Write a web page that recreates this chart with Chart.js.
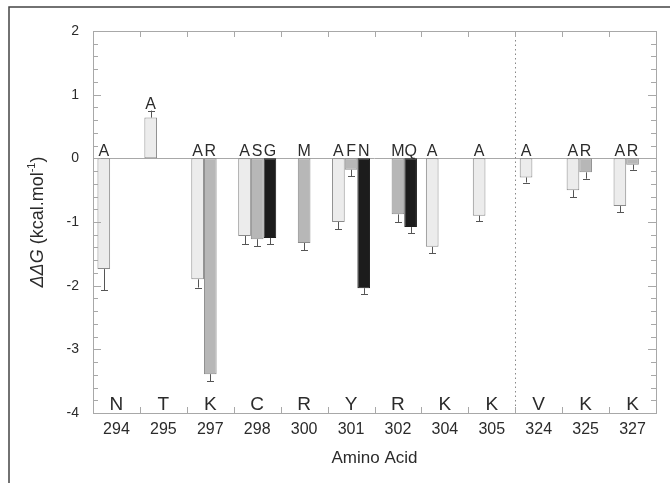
<!DOCTYPE html>
<html>
<head>
<meta charset="utf-8">
<script src="https://cdn.jsdelivr.net/npm/chart.js@4"></script>
<style>
  html, body { margin: 0; padding: 0; background: #fff; }
  canvas { display: block; }
</style>
</head>
<body>
<canvas id="ddgChart" width="670" height="483"></canvas>
<script>
// residue numbers and wild-type residues
const residues = ['294', '295', '297', '298', '300', '301', '302', '304', '305', '324', '325', '327'];
const wildType = ['N', 'T', 'K', 'C', 'R', 'Y', 'R', 'K', 'K', 'V', 'K', 'K'];

// first mutant (light bars)
const mutA = [-1.74, 0.64, -1.90, -1.22, null, -1.00, null, -1.39, -0.90, -0.30, -0.50, -0.75];
const mutAErr = [0.33, 0.11, 0.13, 0.13, null, 0.11, null, 0.10, 0.09, 0.08, 0.11, 0.10];
const mutALabels = ['A', 'A', 'A', 'A', '', 'A', '', 'A', 'A', 'A', 'A', 'A'];

// second mutant (grey bars)
const mutB = [null, null, -3.39, -1.27, -1.33, -0.18, -0.88, null, null, null, -0.22, -0.10];
const mutBErr = [null, null, 0.11, 0.11, 0.11, 0.10, 0.12, null, null, null, 0.10, 0.08];
const mutBLabels = ['', '', 'R', 'S', 'M', 'F', 'M', '', '', '', 'R', 'R'];

// third mutant (black bars)
const mutC = [null, null, null, -1.25, null, -2.04, -1.08, null, null, null, null, null];
const mutCErr = [null, null, null, 0.10, null, 0.09, 0.10, null, null, null, null, null];
const mutCLabels = ['', '', '', 'G', '', 'N', 'Q', '', '', '', '', ''];

const yMin = -4, yMax = 2;
const separatorAfter = 8; // dotted line after residue 305

const errors = [mutAErr, mutBErr, mutCErr];
const mutLabels = [mutALabels, mutBLabels, mutCLabels];

const textColor = '#2b2b2b';
const axisColor = '#a8a8a8';
const FONT = '"Liberation Sans", Arial, Helvetica, sans-serif';

const decorPlugin = {
    id: 'decor',
    beforeDraw(chart) {
        const ctx = chart.ctx;
        ctx.save();
        // outer frame (top and left only)
        ctx.strokeStyle = '#444';
        ctx.lineWidth = 1.5;
        ctx.beginPath();
        ctx.moveTo(9, chart.height);
        ctx.lineTo(9, 7);
        ctx.lineTo(chart.width, 7);
        ctx.stroke();
        ctx.restore();
    },
    beforeDatasetsDraw(chart) {
        const { ctx, chartArea: a, scales: { x, y } } = chart;
        ctx.save();
        ctx.strokeStyle = axisColor;
        ctx.lineWidth = 1;
        // zero line
        const y0 = Math.round(y.getPixelForValue(0)) + 0.5;
        ctx.beginPath();
        ctx.moveTo(a.left, y0);
        ctx.lineTo(a.right, y0);
        ctx.stroke();
        // dotted separator
        const xs = Math.round((x.getPixelForValue(separatorAfter) + x.getPixelForValue(separatorAfter + 1)) / 2) + 0.5;
        ctx.setLineDash([1.5, 3]);
        ctx.strokeStyle = '#888';
        ctx.beginPath();
        ctx.moveTo(xs, a.top);
        ctx.lineTo(xs, a.bottom);
        ctx.stroke();
        ctx.restore();
    },
    afterDatasetsDraw(chart) {
        const { ctx, chartArea: a, scales: { x, y } } = chart;
        ctx.save();

        // error bars
        ctx.strokeStyle = '#555';
        ctx.lineWidth = 1;
        chart.data.datasets.forEach((ds, d) => {
            const meta = chart.getDatasetMeta(d);
            ds.data.forEach((v, i) => {
                if (v === null) return;
                const bar = meta.data[i];
                const err = errors[d][i];
                const yEnd = y.getPixelForValue(v);
                const yErr = y.getPixelForValue(v < 0 ? v - err : v + err);
                const cx = Math.round(bar.x) + 0.5;
                ctx.beginPath();
                ctx.moveTo(cx, yEnd);
                ctx.lineTo(cx, yErr);
                ctx.moveTo(cx - 3.5, Math.round(yErr) + 0.5);
                ctx.lineTo(cx + 3.5, Math.round(yErr) + 0.5);
                ctx.stroke();
            });
        });

        // mutation letters above the bars
        ctx.fillStyle = textColor;
        ctx.font = '16px ' + FONT;
        ctx.textAlign = 'center';
        ctx.textBaseline = 'alphabetic';
        chart.data.datasets.forEach((ds, d) => {
            const meta = chart.getDatasetMeta(d);
            ds.data.forEach((v, i) => {
                const lbl = mutLabels[d][i];
                if (!lbl) return;
                const bar = meta.data[i];
                let base = y.getPixelForValue(0) - 2;
                if (v > 0) base = y.getPixelForValue(v + errors[d][i]) - 2;
                ctx.fillText(lbl, bar.x, base);
            });
        });

        // wild-type residues along the bottom
        ctx.font = '19px ' + FONT;
        residues.forEach((r, i) => {
            ctx.fillText(wildType[i], x.getPixelForValue(i), a.bottom - 3);
        });

        // plot frame
        ctx.strokeStyle = axisColor;
        ctx.lineWidth = 1;
        ctx.strokeRect(Math.round(a.left) + 0.5, Math.round(a.top) + 0.5,
            Math.round(a.right - a.left), Math.round(a.bottom - a.top));

        // inward ticks on the y axes
        for (let k = 0; k <= (yMax - yMin) * 5; k++) {
            const v = yMin + k * 0.2;
            const py = Math.round(y.getPixelForValue(v)) + 0.5;
            const major = k % 5 === 0;
            const len = major ? 8 : 5;
            ctx.beginPath();
            ctx.moveTo(a.left, py);
            ctx.lineTo(a.left + len, py);
            ctx.moveTo(a.right, py);
            ctx.lineTo(a.right - len, py);
            ctx.stroke();
        }
        // inward ticks between categories
        for (let i = 1; i < residues.length; i++) {
            const px = Math.round((x.getPixelForValue(i - 1) + x.getPixelForValue(i)) / 2) + 0.5;
            ctx.beginPath();
            ctx.moveTo(px, a.top);
            ctx.lineTo(px, a.top + 6);
            ctx.moveTo(px, a.bottom);
            ctx.lineTo(px, a.bottom - 6);
            ctx.stroke();
        }

        // y-axis title: ΔΔG (kcal.mol-1)
        ctx.translate(38, (a.top + a.bottom) / 2);
        ctx.rotate(-Math.PI / 2);
        ctx.textBaseline = 'middle';
        ctx.textAlign = 'left';
        const parts = [
            { t: '\u0394\u0394', f: 'italic 18px ' + FONT, dy: 0 },
            { t: 'G', f: 'italic 18px ' + FONT, dy: 0 },
            { t: ' (kcal.mol', f: '18px ' + FONT, dy: 0 },
            { t: '-1', f: '11px ' + FONT, dy: -6 },
            { t: ')', f: '18px ' + FONT, dy: 0 }
        ];
        let total = 0;
        parts.forEach(p => { ctx.font = p.f; total += ctx.measureText(p.t).width; });
        let cx = -total / 2;
        parts.forEach(p => {
            ctx.font = p.f;
            ctx.fillText(p.t, cx, p.dy);
            cx += ctx.measureText(p.t).width;
        });
        ctx.restore();
    }
};

new Chart(document.getElementById('ddgChart').getContext('2d'), {
    type: 'bar',
    data: {
        labels: residues,
        datasets: [{
            data: mutA,
            backgroundColor: '#ececec',
            borderColor: '#8a8a8a',
            borderWidth: 1,
            borderSkipped: false
        }, {
            data: mutB,
            backgroundColor: '#b7b7b7',
            borderColor: '#8a8a8a',
            borderWidth: 1,
            borderSkipped: false
        }, {
            data: mutC,
            backgroundColor: '#1c1c1c',
            borderColor: '#1c1c1c',
            borderWidth: 1,
            borderSkipped: false
        }]
    },
    options: {
        responsive: false,
        animation: false,
        devicePixelRatio: 1,
        categoryPercentage: 0.81,
        barPercentage: 1,
        layout: { padding: { left: 0, top: 31, right: 14, bottom: 0 } },
        plugins: {
            legend: { display: false },
            tooltip: { enabled: false }
        },
        scales: {
            x: {
                grid: { display: false, drawTicks: false },
                border: { display: false },
                ticks: {
                    color: textColor,
                    font: { family: FONT, size: 16 },
                    padding: 7,
                    maxRotation: 0
                },
                title: {
                    display: true,
                    text: 'Amino Acid',
                    color: textColor,
                    font: { family: FONT, size: 17 },
                    padding: { top: 4, bottom: 14 }
                },
                afterFit(scale) { scale.height = 70; }
            },
            y: {
                min: yMin,
                max: yMax,
                grid: { display: false, drawTicks: false },
                border: { display: false },
                ticks: {
                    stepSize: 1,
                    color: textColor,
                    font: { family: FONT, size: 14 },
                    padding: 14
                },
                afterFit(scale) { scale.width = 93; }
            }
        }
    },
    plugins: [decorPlugin]
});
</script>
</body>
</html>
